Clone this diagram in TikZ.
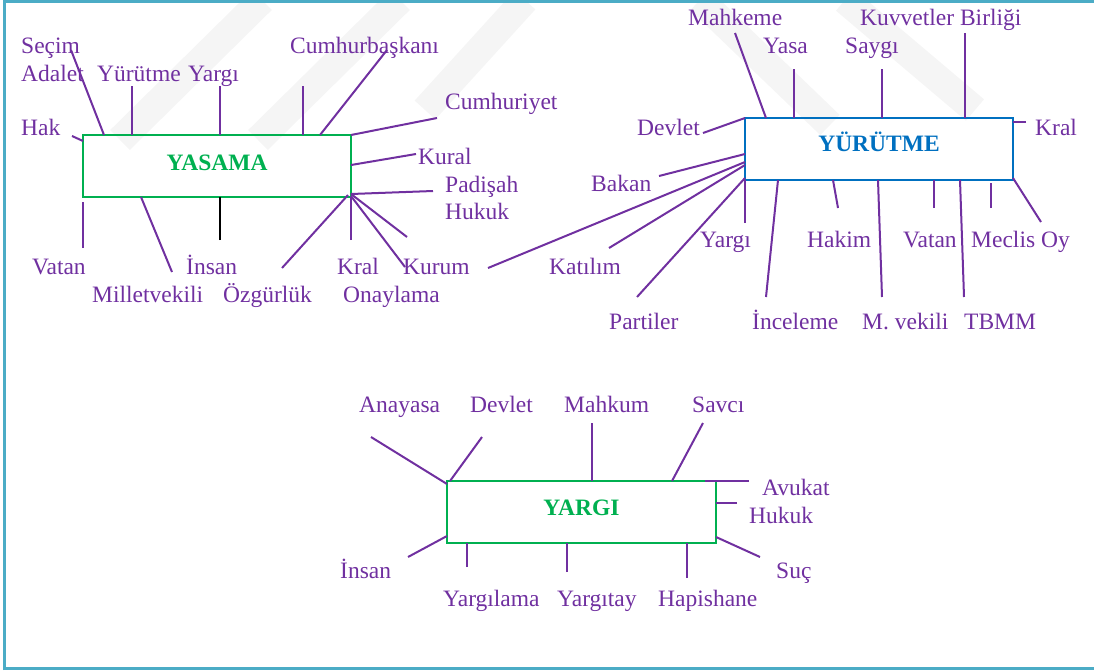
\documentclass[tikz,border=0pt]{standalone}
\usepackage{fontspec}
\setmainfont{Liberation Serif}
\definecolor{mor}{HTML}{7030A0}
\definecolor{yesil}{HTML}{00B050}
\definecolor{mavi}{HTML}{0070C0}
\definecolor{cerceve}{HTML}{4BACC6}

\begin{document}
\begin{tikzpicture}[x=1pt,y=-1pt,
    every node/.style={font=\fontsize{23.5}{28}\selectfont, text=mor, inner sep=0pt},
    lbl/.style={anchor=base west},
    kutu/.style={rectangle, draw, line width=2.2pt,
                 minimum width=268pt, minimum height=62pt, outer sep=0pt},
    baslik/.style={anchor=base, font=\fontsize{23.5}{28}\selectfont\bfseries},
    cizgi/.style={draw=mor, line width=2pt}]

    \useasboundingbox (0,0) rectangle (1094,670);

    % watermark
    \begin{scope}[line width=28pt, draw=black!4]
    \draw (120,140) -- (262,0);
    \draw (258,140) -- (400,0);
    \draw (425,110) -- (525,0);
    \draw (700,0) -- (830,125);
    \draw (845,0) -- (975,110);
    \end{scope}

    % frame
    \draw[cerceve, line width=3.5pt] (4.7,670) -- (4.7,1.4) -- (1094,1.4);
    \draw[cerceve, line width=3.5pt] (4.7,668.4) -- (1094,668.4);

    % boxes
    \node[kutu, draw=yesil] (yasama) at (217,166) {};
    \node[baslik, text=yesil] at ([yshift=-4pt]yasama.center) {YASAMA};

    \node[kutu, draw=mavi] (yurutme) at (879,149) {};
    \node[baslik, text=mavi] at ([yshift=-2pt]yurutme.center) {YÜRÜTME};

    \node[kutu, draw=yesil, minimum width=269pt] (yargi) at (581.5,512) {};
    \node[baslik, text=yesil] at ([yshift=-3pt]yargi.center) {YARGI};

    % yasama labels
    \node[lbl] (secim) at (21,53) {Seçim};
    \node[lbl] (adalet) at (21,81) {Adalet};
    \node[lbl] (yurutmeA) at (97,81) {Yürütme};
    \node[lbl] (yargiA) at (188,81) {Yargı};
    \node[lbl] (cumhurbaskani) at (290,53) {Cumhurbaşkanı};
    \node[lbl] (hak) at (21,135) {Hak};
    \node[lbl] (cumhuriyet) at (445,109) {Cumhuriyet};
    \node[lbl] (kural) at (418,164) {Kural};
    \node[lbl] (padisah) at (445,192) {Padişah};
    \node[lbl] (hukukA) at (445,219) {Hukuk};
    \node[lbl] (vatanA) at (32,274) {Vatan};
    \node[lbl] (insanA) at (186,274) {İnsan};
    \node[lbl] (milletvekili) at (92,302) {Milletvekili};
    \node[lbl] (ozgurluk) at (223,302) {Özgürlük};
    \node[lbl] (kralA) at (337,274) {Kral};
    \node[lbl] (kurum) at (403,274) {Kurum};
    \node[lbl] (onaylama) at (343,302) {Onaylama};

    % yurutme labels
    \node[lbl] (mahkeme) at (688,25) {Mahkeme};
    \node[lbl] (yasa) at (763,53) {Yasa};
    \node[lbl] (saygi) at (845,53) {Saygı};
    \node[lbl] (kuvvetler) at (860,25) {Kuvvetler Birliği};
    \node[lbl] (devletB) at (637,135) {Devlet};
    \node[lbl] (kralB) at (1035,135) {Kral};
    \node[lbl] (bakan) at (591,191) {Bakan};
    \node[lbl] (yargiB) at (700,247) {Yargı};
    \node[lbl] (hakim) at (807,247) {Hakim};
    \node[lbl] (vatanB) at (903,247) {Vatan};
    \node[lbl] (meclis) at (971,247) {Meclis Oy};
    \node[lbl] (katilim) at (549,274) {Katılım};
    \node[lbl] (partiler) at (609,329) {Partiler};
    \node[lbl] (inceleme) at (752,329) {İnceleme};
    \node[lbl] (mvekili) at (862,329) {M. vekili};
    \node[lbl] (tbmm) at (964,329) {TBMM};

    % yargi labels
    \node[lbl] (anayasa) at (359,412) {Anayasa};
    \node[lbl] (devletC) at (470,412) {Devlet};
    \node[lbl] (mahkum) at (564,412) {Mahkum};
    \node[lbl] (savci) at (692,412) {Savcı};
    \node[lbl] (avukat) at (762,495) {Avukat};
    \node[lbl] (hukukC) at (749,523) {Hukuk};
    \node[lbl] (insanC) at (340,578) {İnsan};
    \node[lbl] (suc) at (776,578) {Suç};
    \node[lbl] (yargilama) at (443,606) {Yargılama};
    \node[lbl] (yargitay) at (557,606) {Yargıtay};
    \node[lbl] (hapishane) at (658,606) {Hapishane};

    % free ends
    \coordinate (s1) at (71,50);   \coordinate (s2) at (72,136);
    \coordinate (s3) at (132,86);  \coordinate (s4) at (220,86);
    \coordinate (s5) at (303,86);  \coordinate (s6) at (387,50);
    \coordinate (s7) at (437,118); \coordinate (s8) at (416,154);
    \coordinate (s9) at (433,191); \coordinate (s10) at (407,237);
    \coordinate (s11) at (405,267); \coordinate (s12) at (351,240);
    \coordinate (s13) at (282,268); \coordinate (s14) at (83,248);
    \coordinate (s15) at (172,272); \coordinate (s16) at (220,240);

    \coordinate (r1) at (735,33);  \coordinate (r2) at (794,69);
    \coordinate (r3) at (882,69);  \coordinate (r4) at (965,33);
    \coordinate (r5) at (1026,122); \coordinate (r6) at (703,133);
    \coordinate (r7) at (659,176); \coordinate (r8) at (488,268);
    \coordinate (r9) at (609,248); \coordinate (r10) at (637,297);
    \coordinate (r11) at (745,223); \coordinate (r12) at (766,297);
    \coordinate (r13) at (838,208); \coordinate (r14) at (882,297);
    \coordinate (r15) at (934,208); \coordinate (r16) at (964,297);
    \coordinate (r17) at (991,208); \coordinate (r18) at (1041,222);

    \coordinate (g1) at (371,437); \coordinate (g2) at (482,437);
    \coordinate (g3) at (592,423); \coordinate (g4) at (703,423);
    \coordinate (g5) at (749,481); \coordinate (g6) at (737,503);
    \coordinate (g7) at (760,557); \coordinate (g8) at (408,557);
    \coordinate (g9) at (467,567); \coordinate (g10) at (567,572);
    \coordinate (g11) at (687,578);

    \path[cizgi]
    %yasama lines
    (s1) edge ([xshift=21pt]yasama.north west)
    (s2) edge ([yshift=-6pt]yasama.north west)
    (s3) edge (s3 |- yasama.north)
    (s4) edge (s4 |- yasama.north)
    (s5) edge (s5 |- yasama.north)
    (s6) edge ([xshift=-31pt]yasama.north east)
    (s7) edge (yasama.north east)
    (s8) edge ([yshift=-30pt]yasama.north east)
    (s9) edge ([yshift=3pt]yasama.south east)
    (s10) edge ([yshift=3pt]yasama.south east)
    (s11) edge ([yshift=1pt]yasama.south east)
    (s12) edge (s12 |- yasama.south)
    (s13) edge ([xshift=-3pt,yshift=2pt]yasama.south east)
    (s14) edge ([yshift=-5pt]yasama.south west)
    (s15) edge ([xshift=58pt]yasama.south west)
    %yurutme lines
    (r1) edge ([xshift=21pt]yurutme.north west)
    (r2) edge (r2 |- yurutme.north)
    (r3) edge (r3 |- yurutme.north)
    (r4) edge (r4 |- yurutme.north)
    (r5) edge ([yshift=-4pt]yurutme.north east)
    (r6) edge (yurutme.north west)
    (r7) edge ([yshift=-36pt]yurutme.north west)
    (r8) edge ([yshift=-44pt]yurutme.north west)
    (r9) edge ([yshift=-47pt]yurutme.north west)
    (r10) edge ([yshift=2pt]yurutme.south west)
    (r11) edge (yurutme.south west)
    (r12) edge ([xshift=33pt]yurutme.south west)
    (r13) edge ([xshift=88pt]yurutme.south west)
    (r14) edge ([xshift=133pt]yurutme.south west)
    (r15) edge (r15 |- yurutme.south)
    (r16) edge ([xshift=215pt]yurutme.south west)
    (r17) edge ([xshift=246pt,yshift=-3pt]yurutme.south west)
    (r18) edge ([yshift=2pt]yurutme.south east)
    %yargi lines
    (g1) edge ([yshift=-3pt]yargi.north west)
    (g2) edge ([xshift=3pt]yargi.north west)
    (g3) edge (g3 |- yargi.north)
    (g4) edge ([xshift=225pt]yargi.north west)
    (g5) edge ([xshift=-11pt]yargi.north east)
    (g6) edge ([yshift=-22pt]yargi.north east)
    (g7) edge ([yshift=6pt]yargi.south east)
    (g8) edge ([yshift=7pt]yargi.south west)
    (g9) edge (g9 |- yargi.south)
    (g10) edge (g10 |- yargi.south)
    (g11) edge (g11 |- yargi.south);

    \draw[line width=2pt, black] (s16) -- (s16 |- yasama.south);

\end{tikzpicture}
\end{document}
